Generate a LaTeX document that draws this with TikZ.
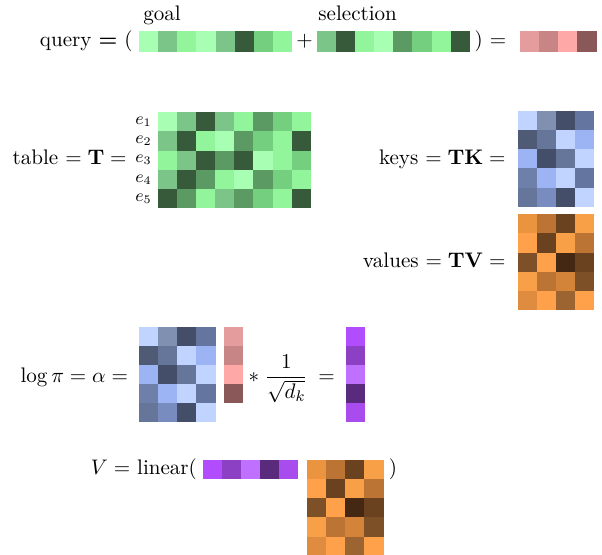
\documentclass[tikz,border=0pt]{standalone}
\usepackage{amsmath}
\usepackage{tikz}
\usetikzlibrary{calc}

\definecolor{gpale}{HTML}{A8FFB4}
\definecolor{glight}{HTML}{92F59B}
\definecolor{gbright}{HTML}{74CF7E}
\definecolor{gmid}{HTML}{7CC588}
\definecolor{gdeep}{HTML}{5B9A62}
\definecolor{gdark}{HTML}{375A3B}

\definecolor{bpale}{HTML}{C0D4FF}
\definecolor{bsky}{HTML}{9CB4F4}
\definecolor{bgray}{HTML}{8090B0}
\definecolor{bslate}{HTML}{66769A}
\definecolor{bsteel}{HTML}{6E80AA}
\definecolor{bdusk}{HTML}{6475A0}
\definecolor{bcorn}{HTML}{788CC0}
\definecolor{bnavy}{HTML}{454E68}
\definecolor{bink}{HTML}{4F5A74}

\definecolor{ofull}{HTML}{FFA04A}
\definecolor{obright}{HTML}{F8A048}
\definecolor{olight}{HTML}{EA9440}
\definecolor{osand}{HTML}{E08C40}
\definecolor{omid}{HTML}{D48438}
\definecolor{orust}{HTML}{BB7434}
\definecolor{obrown}{HTML}{9C6430}
\definecolor{ocoffee}{HTML}{7E5028}
\definecolor{odark}{HTML}{6A4220}
\definecolor{odeep}{HTML}{442814}

\definecolor{rose}{HTML}{E59C9C}
\definecolor{roseold}{HTML}{C88585}
\definecolor{rosepale}{HTML}{FFA8A8}
\definecolor{rosedark}{HTML}{8A5858}

\definecolor{pvivid}{HTML}{B24CFF}
\definecolor{pmid}{HTML}{8C40C4}
\definecolor{plight}{HTML}{C070FF}
\definecolor{pdark}{HTML}{5A2A7C}
\definecolor{pbright}{HTML}{A84CED}

\tikzset{lbl/.style={inner sep=0pt, font=\fontsize{10.95}{13.6}\selectfont}}

\newcommand{\cellrow}[4]{% x, top y, height, colours
  \foreach \col [count=\n from 0] in #4
    {\fill[\col] ({#1+0.35*\n},#2) rectangle ++(0.35,-#3);}}
\newcommand{\cellcol}[3]{% x, top y, colours
  \foreach \col [count=\n from 0] in #3
    {\fill[\col] (#1,{#2-0.35*\n}) rectangle ++(0.35,-0.35);}}
\newcommand{\cellmat}[3]{% x, top y, rows
  \foreach \rw [count=\m from 0] in #3
    {\cellrow{#1}{#2-0.35*\m}{0.35}{\rw}}}

\def\keysmat{{bpale,bgray,bnavy,bdusk},{bink,bslate,bpale,bsky},{bsky,bnavy,bslate,bpale},{bsteel,bsky,bpale,bdusk},{bslate,bcorn,bnavy,bpale}}
\def\valsmat{{olight,orust,odark,obright},{ofull,odark,obright,orust},{ocoffee,ofull,odeep,odark},{obright,orust,omid,ocoffee},{osand,ofull,obrown,ofull}}

\begin{document}
\begin{tikzpicture}
\useasboundingbox (0,0) rectangle (11.0,10.141);

\cellrow{2.540}{9.575}{0.39}{{gpale,gmid,glight,gpale,gmid,gdark,gbright,glight}}
\cellrow{5.787}{9.575}{0.39}{{gmid,gdark,glight,gpale,gdeep,gbright,glight,gdark}}
\cellrow{9.501}{9.575}{0.39}{{rose,roseold,rosepale,rosedark}}

\node[lbl, anchor=base east] (query) at (2.430,9.283) {query \textbf{=} (};
\node[lbl, anchor=base west] (goal) at (2.613,9.763) {goal};
\node[lbl, anchor=base west] (selection) at (5.811,9.763) {selection};
\node[lbl] (plus) at (5.565,9.379) {$+$};
\node[lbl, anchor=base east] (result) at (9.258,9.283) {) $=$};

\cellmat{2.881}{8.089}{{{gpale,gmid,gdark,gmid,glight,gdeep,gbright,glight},{gmid,gdark,glight,gpale,gdeep,gbright,glight,gdark},{glight,gmid,gdark,gdeep,gdark,gpale,glight,gbright},{gmid,gdark,gdeep,glight,gpale,gdeep,gbright,glight},{gdark,gdeep,glight,gmid,gdeep,gbright,glight,gdark}}}
\foreach \k in {1,...,5}
  {\node[lbl, anchor=east, font=\fontsize{9}{11}\selectfont] (e\k) at (2.78,{8.089-0.175-0.35*(\k-1)}) {$e_{\k}$};}
\node[lbl, anchor=base east] (table) at (2.32,7.14) {table $= \mathbf{T} =$};

\cellmat{9.459}{8.113}{\keysmat}
\node[lbl, anchor=base east] (keys) at (9.246,7.14) {keys $= \mathbf{TK} =$};

\cellmat{9.459}{6.225}{\valsmat}
\node[lbl, anchor=base east] (values) at (9.246,5.261) {values $= \mathbf{TV} =$};

\cellmat{2.540}{4.172}{\keysmat}
\cellcol{4.093}{4.172}{{rose,roseold,rosepale,rosedark}}
\cellcol{6.322}{4.172}{{pvivid,pmid,plight,pdark,pbright}}
\node[lbl, anchor=base east] (logpi) at (2.344,3.146) {$\log\pi = \alpha =$};
\node[lbl, anchor=base] (star) at (4.641,3.146) {$*$};
\node[lbl, anchor=base] (frac) at (5.231,3.146) {$\dfrac{1}{\sqrt{d_k}}$};
\node[lbl, anchor=base] (eq) at (5.966,3.146) {$=$};

\cellrow{3.704}{1.736}{0.35}{{pvivid,pmid,plight,pdark,pbright}}
\cellmat{5.609}{1.736}{\valsmat}
\node[lbl, anchor=base east] (linear) at (3.605,1.466) {$V =$ linear(};
\node[lbl, anchor=base west] (close) at (7.10,1.466) {)};

\end{tikzpicture}
\end{document}
